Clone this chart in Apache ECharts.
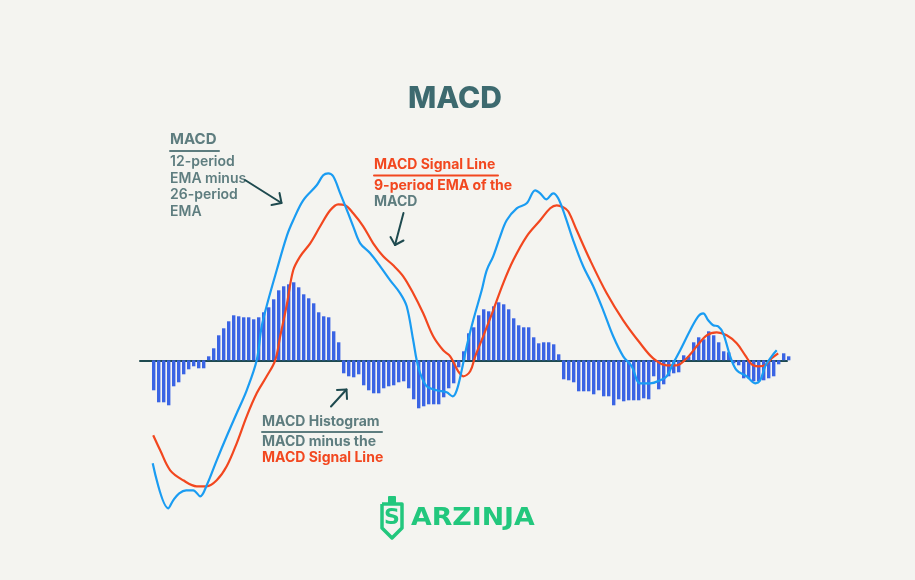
<!DOCTYPE html>
<html>
<head>
<meta charset="utf-8">
<script src="https://cdn.jsdelivr.net/npm/echarts@6/dist/echarts.min.js"></script>
<style>
html,body{margin:0;padding:0;background:#f4f4f0;}
#c{width:915px;height:580px;}
</style>
</head>
<body>
<div id="c"></div>
<script>
// Histogram values (MACD minus signal), one per period
var histogram = [-30,-42,-42,-45,-26,-22,-14,-9,-6,-8,-8,4,12,25,32,39,45,44,43,43,41,43,48,53,61,70,74,76,78,73,66,62,57,48,44,43,29,18,-13,-16,-17,-14,-25,-30,-33,-33,-28,-26,-25,-22,-21,-28,-39,-48,-46,-44,-44,-44,-37,-28,-23,-7,9,27,33,45,51,49,54,58,56,51,42,35,33,33,23,17,18,18,16,6,-19,-20,-22,-31,-31,-31,-34,-30,-36,-36,-45,-39,-41,-40,-40,-40,-38,-39,-16,-29,-24,-16,-13,-12,5,4,18,23,21,29,25,18,9,8,-3,-5,-18,-18,-21,-21,-20,-18,-16,-4,7,4];

// MACD line samples [period, value]
var macdLine = [[-0.2,-103],[2.9,-148],[3.9,-140],[5.1,-133],[6.5,-130],[7.9,-130],[9.3,-136],[10.6,-125],[12.6,-100],[14.6,-76],[16.6,-53],[18.6,-30],[20.6,0],[21.6,34],[22.9,60],[24.6,90],[26.6,124],[27.9,140],[29.9,160],[32.6,175],[33.9,185],[34.9,187],[35.9,184],[37.3,167],[38.9,147],[39.9,134],[41.3,117],[43.3,107],[45.3,94],[47.3,80],[49.3,67],[50.6,54],[51.9,20],[52.6,0],[53.3,-13],[54.6,-26],[56.6,-30],[58.6,-32],[59.8,-36],[60.6,-30],[61.6,-10],[62.6,14],[63.9,40],[65.6,70],[66.6,90],[67.9,104],[69.3,124],[70.6,140],[72.6,152],[74.6,157],[76.3,170],[77.3,167],[78.5,161],[79.9,167],[80.9,162],[82.3,144],[83.9,120],[85.9,94],[87.9,74],[89.9,50],[91.9,24],[93.9,4],[95.6,-6],[97.3,-23],[99.3,-23],[101.3,-20],[102.6,-16],[103.9,-3],[105.3,10],[107.3,30],[108.9,44],[109.9,47],[110.9,40],[111.9,35],[112.9,34],[113.9,27],[115.3,4],[116.6,-10],[118.6,-16],[120.3,-23],[121.3,-20],[122.3,-6],[123.6,4],[124.6,10]];

// Signal line samples [period, value]
var signalLine = [[-0.1,-75],[1.3,-90],[3.3,-110],[5.9,-120],[8.6,-126],[10.6,-126],[12.6,-120],[14.6,-106],[16.6,-83],[18.6,-56],[20.6,-33],[22.6,-16],[24.3,0],[25.3,24],[26.6,55],[27.9,90],[29.3,104],[31.3,117],[33.3,134],[35.3,150],[36.9,156],[38.3,155],[39.9,147],[41.9,134],[43.9,117],[45.9,104],[47.9,95],[49.9,84],[51.9,67],[53.9,47],[55.9,24],[57.9,10],[59.3,4],[60.9,-11],[61.9,-16],[63.3,-11],[64.3,4],[65.9,24],[67.9,50],[69.9,77],[71.9,100],[74.6,124],[77.3,140],[79.3,152],[80.6,155],[81.9,153],[82.9,149],[84.6,130],[87.3,100],[90.6,67],[93.9,40],[97.3,17],[99.9,2],[102.6,-5],[104.6,-5],[106.6,2],[108.6,14],[110.6,25],[112.6,28],[114.6,25],[116.6,17],[118.3,5],[119.6,-4],[120.9,-6],[122.3,-5],[123.6,2],[124.9,7]];

var histData = histogram.map(function(v,i){return [i,v];});

var GRAY = '#5e7d7f', RED = '#f2471f', DARK = '#1e4a4f', TITLE = '#3d6a6f', GREEN = '#22c77d';
var F = 'Inter, "Noto Sans", sans-serif';

function txt(x,y,s,color,size,weight){
  return {type:'text', left:x, top:y, style:{text:s, fill:color, font: (weight||600)+' '+(size||14)+'px '+F}};
}
function line(pts,color,w){
  return {type:'polyline', shape:{points:pts}, style:{stroke:color, lineWidth:w||2, fill:null, lineCap:'round', lineJoin:'round'}};
}

var chart = echarts.init(document.getElementById('c'));
chart.setOption({
  backgroundColor:'#f4f4f0',
  animation:false,
  grid:{left:140, right:128, top:160.3, bottom:59.7},
  xAxis:{type:'value', min:-2.74, max:126.66, axisLine:{show:true, onZero:true, lineStyle:{color:DARK, width:2}}, axisTick:{show:false}, axisLabel:{show:false}, splitLine:{show:false}},
  yAxis:{type:'value', min:-160, max:200, show:false, splitLine:{show:false}},
  series:[
    {type:'bar', data:histData, barWidth:3.4, clip:false, itemStyle:{color:'#3a64e4'}, z:2},
    {type:'line', data:macdLine, smooth:0.35, symbol:'none', clip:false, lineStyle:{color:'#1a9cf2', width:2.2}, z:4},
    {type:'line', data:signalLine, smooth:0.35, symbol:'none', clip:false, lineStyle:{color:'#f2471f', width:2.2}, z:3}
  ],
  graphic:[
    {type:'text', x:455, y:98.5, style:{text:'MACD', fill:TITLE, font:'800 30px '+F, textAlign:'center', textVerticalAlign:'middle'}},
    // MACD annotation
    txt(170,132,'MACD',GRAY,15,700),
    line([[170,151],[219,151]],GRAY,2),
    txt(170,155,'12-period',GRAY,14,600),
    txt(170,171.5,'EMA minus',GRAY,14,600),
    txt(170,188,'26-period',GRAY,14,600),
    txt(170,204.5,'EMA',GRAY,14,600),
    line([[245,180],[281.5,203]],DARK,2),
    line([[271.5,205],[281.5,203],[279.5,193]],DARK,2),
    // Signal annotation
    txt(374,158,'MACD Signal Line',RED,14,700),
    line([[374,175.5],[498,175.5]],RED,2),
    txt(374,178.5,'9-period EMA of the',RED,14,700),
    txt(374,194.5,'MACD',GRAY,14,700),
    line([[403.5,213],[395,245]],DARK,2),
    line([[390.5,237],[395,245],[403.5,240.5]],DARK,2),
    // Histogram annotation
    txt(262,415,'MACD Histogram',GRAY,14,700),
    line([[262,432],[382,432]],GRAY,2),
    txt(262,434.5,'MACD minus the',GRAY,14,700),
    txt(262,451,'MACD Signal Line',RED,14,700),
    line([[331,406.5],[346.5,389.5]],DARK,2),
    line([[337,390],[346.5,389.5],[347,399]],DARK,2),
    // Logo
    {type:'rect', shape:{x:388, y:496, width:8, height:8, r:1}, style:{fill:GREEN}},
    {type:'polyline', shape:{points:[[382,504],[402,504],[402,528],[392,538],[382,528],[382,504]]}, style:{stroke:GREEN, lineWidth:3.5, fill:null, lineJoin:'round'}},
    {type:'text', x:392, y:518, style:{text:'S', fill:GREEN, font:'900 22px "DejaVu Sans", sans-serif', textAlign:'center', textVerticalAlign:'middle'}},
    {type:'text', x:411, y:518, scaleX:1.07, style:{text:'ARZINJA', fill:GREEN, font:'bold 25px "DejaVu Sans", sans-serif', textVerticalAlign:'middle'}}
  ]
});
</script>
</body>
</html>
